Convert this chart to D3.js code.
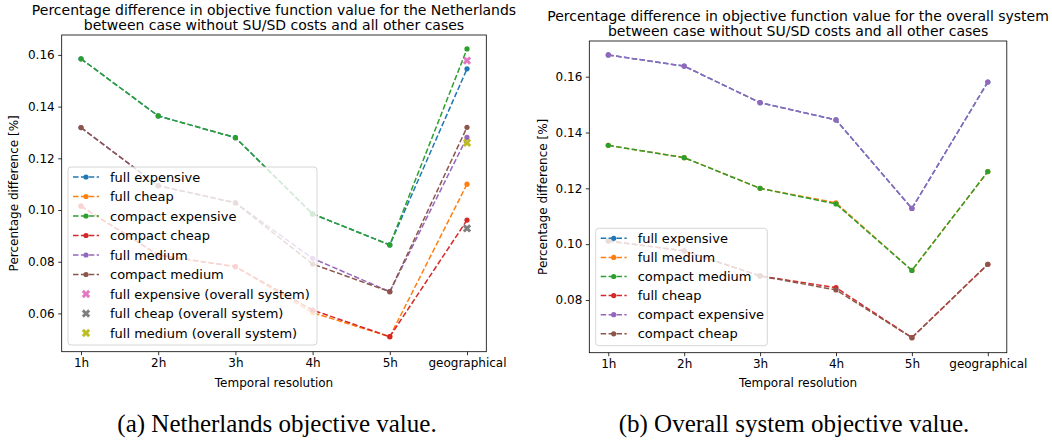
<!DOCTYPE html>
<html>
<head>
<meta charset="utf-8">
<script src="https://cdn.jsdelivr.net/npm/d3@7"></script>
<style>
  body { margin: 0; background: #fff; }
  svg { display: block; font-family: "DejaVu Sans", sans-serif; }
</style>
</head>
<body>
<div id="plot"></div>
<script>
var width = 1052;
var height = 444;

// categories on the x axis
var resolutions = ["1h", "2h", "3h", "4h", "5h", "geographical"];

// (a) Netherlands
var nlFullExpensive    = [0.1585, 0.1364, 0.1280, 0.0985, 0.0865, 0.1546];
var nlFullCheap        = [0.1015, 0.0826, 0.0781, 0.0603, 0.0510, 0.1100];
var nlCompactExpensive = [0.1585, 0.1364, 0.1280, 0.0985, 0.0865, 0.1623];
var nlCompactCheap     = [0.1015, 0.0826, 0.0781, 0.0613, 0.0510, 0.0961];
var nlFullMedium       = [0.1319, 0.1094, 0.1028, 0.0813, 0.0684, 0.1281];
var nlCompactMedium    = [0.1319, 0.1094, 0.1028, 0.0791, 0.0684, 0.1320];
// single points at "geographical" taken from the overall system
var nlOverallNames  = ["full expensive (overall system)", "full cheap (overall system)", "full medium (overall system)"];
var nlOverallValues = [0.1578, 0.0929, 0.1260];
var nlTicks = [0.06, 0.08, 0.10, 0.12, 0.14, 0.16];

// (b) overall system
var osFullExpensive    = [0.1678, 0.1638, 0.1507, 0.1445, 0.1128, 0.1581];
var osFullMedium       = [0.1354, 0.1310, 0.1200, 0.1148, 0.0906, 0.1260];
var osCompactMedium    = [0.1354, 0.1310, 0.1200, 0.1144, 0.0906, 0.1260];
var osFullCheap        = [0.1011, 0.0976, 0.0886, 0.0844, 0.0665, 0.0928];
var osCompactExpensive = [0.1678, 0.1638, 0.1507, 0.1445, 0.1128, 0.1581];
var osCompactCheap     = [0.1011, 0.0976, 0.0886, 0.0836, 0.0665, 0.0928];
var osTicks = [0.08, 0.10, 0.12, 0.14, 0.16];

var tab10 = ["#1f77b4", "#ff7f0e", "#2ca02c", "#d62728", "#9467bd", "#8c564b", "#e377c2", "#7f7f7f", "#bcbd22", "#17becf"];

var svg = d3.select('#plot')
    .append('svg')
    .attr('width', width)
    .attr('height', height);

function drawPanel(cfg) {
    var g = svg.append('g');

    var x = d3.scaleLinear()
        .domain([-0.25, resolutions.length - 0.75])
        .range([cfg.left, cfg.right]);
    var y = d3.scaleLinear()
        .domain(cfg.yDomain)
        .range([cfg.bottom, cfg.top]);

    // axes
    var xAxis = d3.axisBottom(x)
        .tickValues(d3.range(resolutions.length))
        .tickFormat(function(d) { return resolutions[d]; })
        .tickSize(3.5).tickPadding(3.5);
    var gx = g.append('g')
        .attr('transform', 'translate(0,' + cfg.bottom + ')')
        .call(xAxis);
    var yAxis = d3.axisLeft(y)
        .tickValues(cfg.ticks)
        .tickFormat(d3.format('.2f'))
        .tickSize(3.5).tickPadding(3.5);
    var gy = g.append('g')
        .attr('transform', 'translate(' + cfg.left + ',0)')
        .call(yAxis);
    [gx, gy].forEach(function(a) {
        a.select('.domain').remove();
        a.selectAll('.tick line').attr('stroke', '#000').attr('stroke-width', 0.8);
        a.selectAll('.tick text').attr('fill', '#000').attr('font-size', 12)
            .attr('font-family', '"DejaVu Sans", sans-serif');
    });

    // series lines
    var line = d3.line()
        .x(function(d, i) { return x(i); })
        .y(function(d) { return y(d); });

    cfg.series.forEach(function(s) {
        g.append('path')
            .attr('d', line(s.values))
            .attr('fill', 'none')
            .attr('stroke', s.color)
            .attr('stroke-width', 1.5)
            .attr('stroke-dasharray', '5.5,2.4');
        g.selectAll(null)
            .data(s.values)
            .enter()
            .append('circle')
            .attr('cx', function(d, i) { return x(i); })
            .attr('cy', function(d) { return y(d); })
            .attr('r', 2.6)
            .attr('fill', s.color);
    });

    var xSym = d3.symbol().type(d3.symbolCross).size(44);
    (cfg.points || []).forEach(function(p) {
        g.append('path')
            .attr('d', xSym())
            .attr('transform', 'translate(' + x(resolutions.length - 1) + ',' + y(p.value) + ') rotate(45)')
            .attr('fill', p.color);
    });

    // frame
    g.append('rect')
        .attr('x', cfg.left).attr('y', cfg.top)
        .attr('width', cfg.right - cfg.left)
        .attr('height', cfg.bottom - cfg.top)
        .attr('fill', 'none')
        .attr('stroke', '#000')
        .attr('stroke-width', 0.8);

    // legend
    var entries = cfg.series.map(function(s) { return { name: s.name, color: s.color, kind: 'line' }; })
        .concat((cfg.points || []).map(function(p) { return { name: p.name, color: p.color, kind: 'x' }; }));
    var L = cfg.legend;
    g.append('rect')
        .attr('x', L.x).attr('y', L.y)
        .attr('width', L.w).attr('height', L.h)
        .attr('rx', 3)
        .attr('fill', '#fff').attr('fill-opacity', 0.8)
        .attr('stroke', '#cccccc').attr('stroke-width', 0.8);
    entries.forEach(function(e, i) {
        var cy = L.y + L.first + i * L.step;
        if (e.kind === 'line') {
            g.append('line')
                .attr('x1', L.x + 5).attr('x2', L.x + 31)
                .attr('y1', cy).attr('y2', cy)
                .attr('stroke', e.color).attr('stroke-width', 1.5)
                .attr('stroke-dasharray', '5.5,2.4');
            g.append('circle')
                .attr('cx', L.x + 18).attr('cy', cy).attr('r', 2.6)
                .attr('fill', e.color);
        } else {
            g.append('path')
                .attr('d', xSym())
                .attr('transform', 'translate(' + (L.x + 18) + ',' + cy + ') rotate(45)')
                .attr('fill', e.color);
        }
        g.append('text')
            .attr('x', L.x + 42).attr('y', cy)
            .attr('dy', '0.35em')
            .attr('font-size', 13)
            .text(e.name);
    });

    // titles and labels
    var cx = (cfg.left + cfg.right) / 2;
    cfg.title.forEach(function(t, i) {
        g.append('text')
            .attr('x', cx).attr('y', cfg.titleY + i * 15)
            .attr('text-anchor', 'middle')
            .attr('dy', '0.35em')
            .attr('font-size', 14)
            .text(t);
    });
    g.append('text')
        .attr('x', cx).attr('y', 383)
        .attr('text-anchor', 'middle')
        .attr('dy', '0.35em')
        .attr('font-size', 12)
        .text('Temporal resolution');
    g.append('text')
        .attr('transform', 'translate(' + cfg.ylabelX + ',' + ((cfg.top + cfg.bottom) / 2) + ') rotate(-90)')
        .attr('text-anchor', 'middle')
        .attr('dy', '0.35em')
        .attr('font-size', 12)
        .text('Percentage difference [%]');

    svg.append('text')
        .attr('x', cfg.captionX).attr('y', 432)
        .attr('text-anchor', 'middle')
        .attr('font-family', '"Liberation Serif", serif')
        .attr('font-size', 25)
        .text(cfg.caption);
}

drawPanel({
    left: 61.7, right: 486.3, top: 35, bottom: 351.7,
    yDomain: [0.0452, 0.1677],
    ticks: nlTicks,
    series: [
        { name: 'full expensive', values: nlFullExpensive, color: tab10[0] },
        { name: 'full cheap', values: nlFullCheap, color: tab10[1] },
        { name: 'compact expensive', values: nlCompactExpensive, color: tab10[2] },
        { name: 'compact cheap', values: nlCompactCheap, color: tab10[3] },
        { name: 'full medium', values: nlFullMedium, color: tab10[4] },
        { name: 'compact medium', values: nlCompactMedium, color: tab10[5] }
    ],
    points: nlOverallNames.map(function(n, i) {
        return { name: n, value: nlOverallValues[i], color: tab10[6 + i] };
    }),
    legend: { x: 68, y: 167, w: 249, h: 178, first: 10, step: 19.5 },
    title: ['Percentage difference in objective function value for the Netherlands',
            'between case without SU/SD costs and all other cases'],
    titleY: 10,
    ylabelX: 14,
    caption: '(a) Netherlands objective value.',
    captionX: 277
});

drawPanel({
    left: 589.3, right: 1006.8, top: 41, bottom: 352.7,
    yDomain: [0.0611, 0.1728],
    ticks: osTicks,
    series: [
        { name: 'full expensive', values: osFullExpensive, color: tab10[0] },
        { name: 'full medium', values: osFullMedium, color: tab10[1] },
        { name: 'compact medium', values: osCompactMedium, color: tab10[2] },
        { name: 'full cheap', values: osFullCheap, color: tab10[3] },
        { name: 'compact expensive', values: osCompactExpensive, color: tab10[4] },
        { name: 'compact cheap', values: osCompactCheap, color: tab10[5] }
    ],
    legend: { x: 595.7, y: 228.3, w: 171.6, h: 117.4, first: 10, step: 19.1 },
    title: ['Percentage difference in objective function value for the overall system',
            'between case without SU/SD costs and all other cases'],
    titleY: 16,
    ylabelX: 543,
    caption: '(b) Overall system objective value.',
    captionX: 794
});
</script>
</body>
</html>
